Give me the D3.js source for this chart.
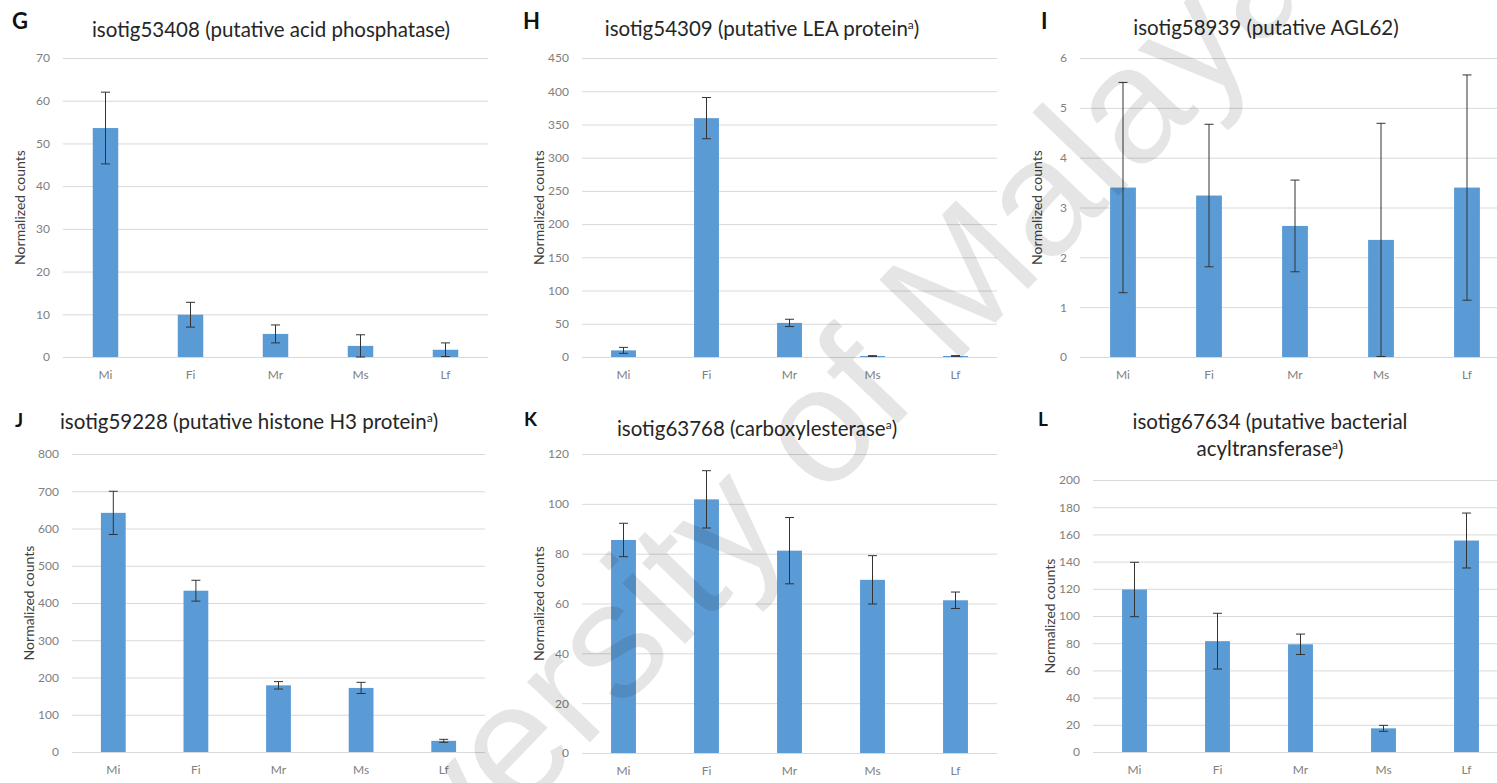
<!DOCTYPE html>
<html>
<head>
<meta charset="utf-8">
<script src="https://cdn.jsdelivr.net/npm/d3@7/dist/d3.min.js"></script>
<style>
  body { margin: 0; background: #fff; }
  svg { display: block; font-family: Lato, "Open Sans", sans-serif; }
  .grid line { stroke: #d9d9d9; stroke-width: 1; }
  .grid .domain { display: none; }
  .tick text { fill: #808080; }
  .bar { fill: #5b9bd5; }
  .err { stroke: #333; stroke-width: 1; }
  .letter { font-weight: bold; fill: #111; }
  .title { fill: #262626; }
  .y-title { fill: #404040; }
  .watermark { fill: #000; fill-opacity: 0.1; font-family: "Liberation Sans", Arial, sans-serif; }
</style>
</head>
<body>
<svg width="1497" height="783"></svg>
<script>
// data (mean normalized counts and error bar half-widths)
const categories = ['Mi', 'Fi', 'Mr', 'Ms', 'Lf'];

const gMeans = [53.6, 9.9, 5.4, 2.6, 1.7];
const gErrors = [8.4, 2.9, 2.1, 2.6, 1.6];

const hMeans = [10, 359.5, 51.3, 1.5, 1.5];
const hErrors = [4.5, 31, 5.5, 0.5, 0.5];

const iMeans = [3.40, 3.24, 2.63, 2.35, 3.40];
const iErrors = [2.11, 1.43, 0.92, 2.34, 2.26];

const jMeans = [642, 433, 179, 172, 30];
const jErrors = [58, 28, 10, 15, 4];

const kMeans = [85.5, 101.8, 81.2, 69.5, 61.3];
const kErrors = [6.7, 11.5, 13.3, 9.7, 3.3];

const lMeans = [119.5, 81.5, 79.2, 17.4, 155.5];
const lErrors = [20, 20.5, 7.5, 2.2, 20.2];

// y axis ranges [min, max, step]
const gTicks = [0, 70, 10];
const hTicks = [0, 450, 50];
const iTicks = [0, 6, 1];
const jTicks = [0, 800, 100];
const kTicks = [0, 120, 20];
const lTicks = [0, 200, 20];

// title text, superscript kept separate
const gTitle = [['isotig53408 (putative acid phosphatase)']];
const hTitle = [['isotig54309 (putative LEA protein', 'a', ')']];
const iTitle = [['isotig58939 (putative AGL62)']];
const jTitle = [['isotig59228 (putative histone H3 protein', 'a', ')']];
const kTitle = [['isotig63768 (carboxylesterase', 'a', ')']];
const lTitle = [['isotig67634 (putative bacterial'], ['acyltransferase', 'a', ')']];

const panels = [
  { letter: 'G', title: gTitle, means: gMeans, errors: gErrors, ticks: gTicks,
    box: { left: 63, right: 488, top: 58, bottom: 357 }, letterPos: [12, 29], letterSize: 22, titleX: 271, titleY: 37 },
  { letter: 'H', title: hTitle, means: hMeans, errors: hErrors, ticks: hTicks,
    box: { left: 582, right: 997, top: 58, bottom: 357 }, letterPos: [523, 29], letterSize: 22, titleX: 762, titleY: 36 },
  { letter: 'I', title: iTitle, means: iMeans, errors: iErrors, ticks: iTicks,
    box: { left: 1080, right: 1510, top: 58, bottom: 357 }, letterPos: [1041, 29], letterSize: 22, titleX: 1266, titleY: 35 },
  { letter: 'J', title: jTitle, means: jMeans, errors: jErrors, ticks: jTicks,
    box: { left: 72, right: 485, top: 454, bottom: 752 }, letterPos: [15, 427], letterSize: 19, titleX: 249, titleY: 429 },
  { letter: 'K', title: kTitle, means: kMeans, errors: kErrors, ticks: kTicks,
    box: { left: 582, right: 997, top: 454, bottom: 753 }, letterPos: [524, 426], letterSize: 19, titleX: 757, titleY: 436 },
  { letter: 'L', title: lTitle, means: lMeans, errors: lErrors, ticks: lTicks,
    box: { left: 1093, right: 1508, top: 480, bottom: 752 }, letterPos: [1038, 426], letterSize: 19, titleX: 1270, titleY: 429 }
];

const svg = d3.select('svg');

panels.forEach(p => drawPanel(p));

function drawPanel(p) {
  const b = p.box;
  const g = svg.append('g');

  const x = d3.scaleBand()
    .domain(categories)
    .range([b.left, b.right])
    .paddingInner(0.7)
    .paddingOuter(0.35);

  const y = d3.scaleLinear()
    .domain([p.ticks[0], p.ticks[1]])
    .range([b.bottom, b.top]);

  const tickValues = d3.range(p.ticks[0], p.ticks[1] + p.ticks[2] / 2, p.ticks[2]);

  // gridlines + tick labels
  g.append('g')
    .attr('class', 'grid')
    .attr('transform', 'translate(' + b.left + ',0)')
    .call(d3.axisLeft(y)
      .tickValues(tickValues)
      .tickSize(-(b.right - b.left))
      .tickPadding(13)
      .tickFormat(d3.format('d')))
    .call(s => s.selectAll('text').style('font-size', '12px').style('font-family', 'Lato, sans-serif'));

  // x labels
  g.append('g')
    .attr('transform', 'translate(0,' + b.bottom + ')')
    .call(d3.axisBottom(x).tickSize(0).tickPadding(13))
    .call(s => s.select('.domain').remove())
    .call(s => s.selectAll('text').style('font-size', '12px').style('font-family', 'Lato, sans-serif'));

  // bars
  g.selectAll('.bar')
    .data(p.means)
    .enter()
    .append('rect')
    .attr('class', 'bar')
    .attr('x', (d, i) => x(categories[i]))
    .attr('width', x.bandwidth())
    .attr('y', d => y(d))
    .attr('height', d => y(0) - y(d));

  // error bars
  const cap = 4.5;
  const errs = g.selectAll('.errbar')
    .data(p.means.map((m, i) => ({ c: categories[i], lo: Math.max(0, m - p.errors[i]), hi: m + p.errors[i] })))
    .enter()
    .append('g')
    .attr('class', 'errbar');
  const cx = d => x(d.c) + x.bandwidth() / 2;
  errs.append('line').attr('class', 'err')
    .attr('x1', cx).attr('x2', cx)
    .attr('y1', d => y(d.lo)).attr('y2', d => y(d.hi));
  errs.append('line').attr('class', 'err')
    .attr('x1', d => cx(d) - cap).attr('x2', d => cx(d) + cap)
    .attr('y1', d => y(d.hi)).attr('y2', d => y(d.hi));
  errs.append('line').attr('class', 'err')
    .attr('x1', d => cx(d) - cap).attr('x2', d => cx(d) + cap)
    .attr('y1', d => y(d.lo)).attr('y2', d => y(d.lo));

  // y axis title
  g.append('text')
    .attr('class', 'y-title')
    .attr('transform', 'translate(' + (b.left - 38) + ',' + ((b.top + b.bottom) / 2) + ') rotate(-90)')
    .attr('text-anchor', 'middle')
    .style('font-size', '14px')
    .text('Normalized counts');

  // panel letter
  g.append('text')
    .attr('class', 'letter')
    .attr('x', p.letterPos[0])
    .attr('y', p.letterPos[1])
    .style('font-size', p.letterSize + 'px')
    .text(p.letter);

  // title (one or two lines)
  p.title.forEach((parts, li) => {
    const t = g.append('text')
      .attr('class', 'title')
      .attr('x', p.titleX)
      .attr('y', p.titleY + li * 27)
      .attr('text-anchor', 'middle')
      .style('font-size', '20.5px');
    t.append('tspan').text(parts[0]);
    if (parts[1]) {
      t.append('tspan').attr('dy', -7).style('font-size', '12px').text(parts[1]);
      t.append('tspan').attr('dy', 7).text(parts[2]);
    }
  });
}

// watermark
svg.append('text')
  .attr('class', 'watermark')
  .attr('text-anchor', 'middle')
  .attr('transform', 'translate(805,520) rotate(-46)')
  .style('font-size', '165px')
  .text('University of Malaya');
</script>
</body>
</html>
